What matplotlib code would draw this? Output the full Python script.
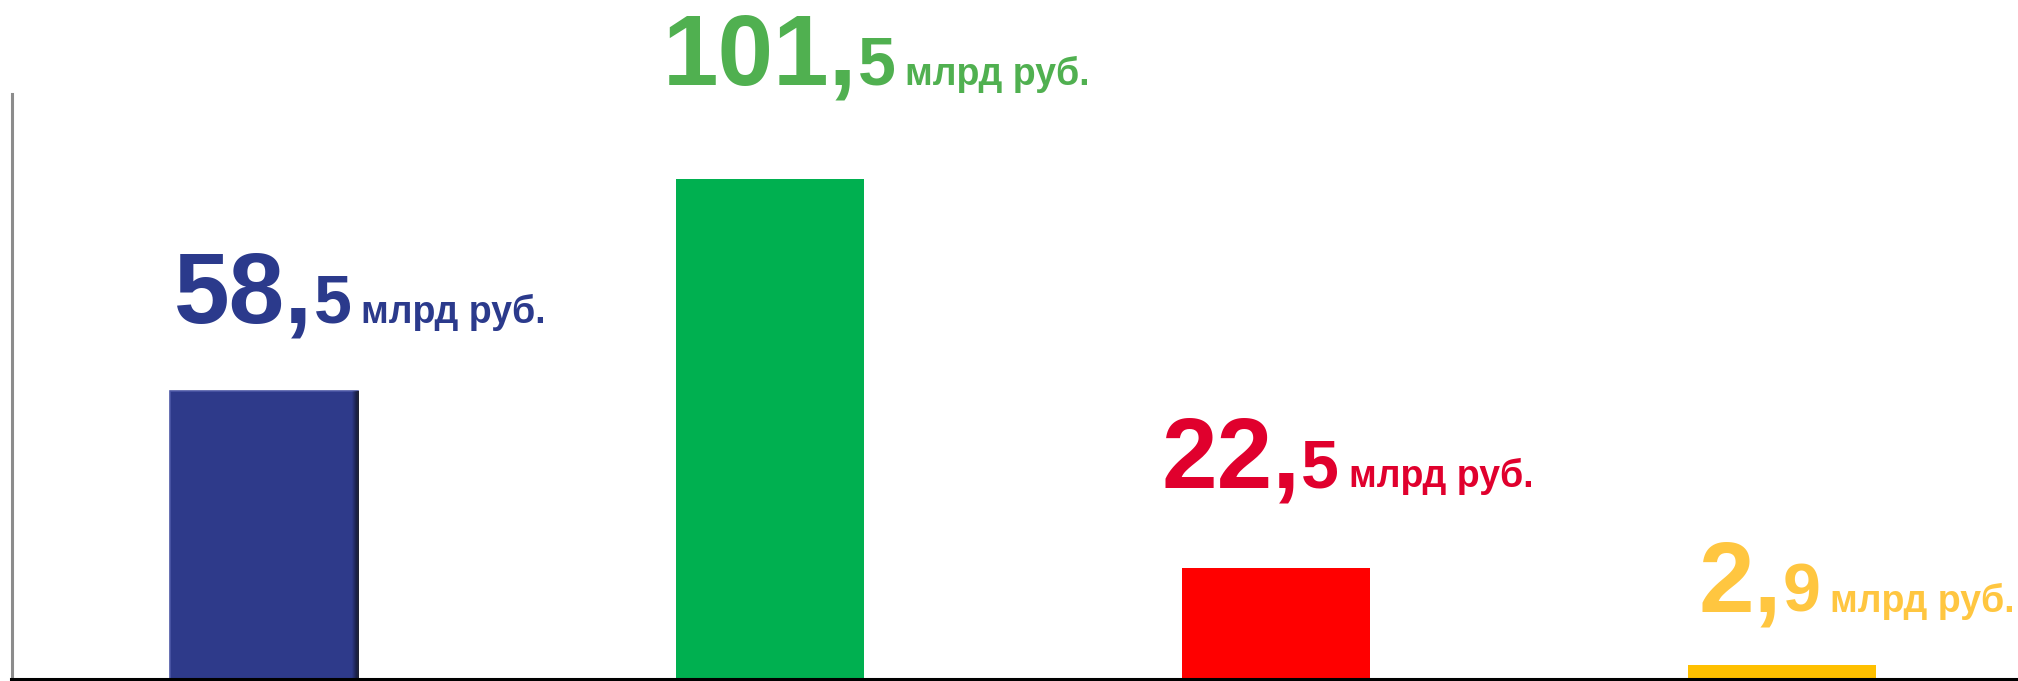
import numpy as np
import matplotlib
matplotlib.use("Agg")
import matplotlib.pyplot as plt
import matplotlib.font_manager as fm

# ---- data ----
categories = ["A", "B", "C", "D"]
values = [58.5, 101.5, 22.5, 2.9]
unit_label = "млрд руб."

# ---- style ----
bar_colors = ["#2E3A8A", "#00B050", "#FF0000", "#FFC000"]
text_colors = ["#2B3A8C", "#50B050", "#E0002D", "#FFC640"]
# label placement (pixel offsets from bar's left/top)
label_dx = [4, -13, -20, 11]
label_dy = [68, 94, 81, 53]
mid_gap = 0
unit_gap = 10

cands = sorted(
    f.fname for f in fm.fontManager.ttflist
    if f.name == "Liberation Sans" and f.weight in (700, "bold")
    and f.style == "normal" and "narrow" not in f.fname.lower()
)


def bold_font(size):
    if cands:
        return fm.FontProperties(fname=cands[0], size=size)
    return fm.FontProperties(family=["Liberation Sans", "DejaVu Sans"], weight="bold", size=size)


W, H = 2018, 681
DPI = 100
fig = plt.figure(figsize=(W / DPI, H / DPI), dpi=DPI)
ax_left, ax_bottom, ax_top = 11.5, 2.0, 94.0
ax = fig.add_axes([ax_left / W, ax_bottom / H, (W - ax_left) / W, (H - ax_bottom - ax_top) / H])

x = np.arange(len(categories))
bar_w = 0.372
bars = ax.bar(x, values, width=bar_w, color=bar_colors, zorder=2)

# bevel look on the first bar
b0 = bars[0]
b0.set_edgecolor("#4D58A6")
b0.set_linewidth(1.2)
ramp = np.zeros((1, 200, 4))
ramp[..., :3] = 0.02
ramp[0, :, 3] = np.clip((np.arange(200) - 192) / 8.0, 0, 1) * 0.85
img = ax.imshow(ramp, extent=(b0.get_x(), b0.get_x() + b0.get_width(), 0, b0.get_height()),
                aspect="auto", zorder=3, interpolation="bilinear")
img.set_clip_path(b0)

ax.set_xlim(-0.5, -0.5 + (W - ax_left) / 505.8)
ax.set_ylim(0, 118.7)
ax.set_xticks([])
ax.set_yticks([])
for s in ["top", "right"]:
    ax.spines[s].set_visible(False)
ax.spines["left"].set_color("#8C8C8C")
ax.spines["left"].set_linewidth(2.2)
ax.spines["bottom"].set_color("black")
ax.spines["bottom"].set_linewidth(2.2)
ax.spines["bottom"].set_zorder(5)

fp_big, fp_mid, fp_small = bold_font(72), bold_font(49), bold_font(27)
for i, v in enumerate(values):
    ip, fp = f"{v:.1f}".split(".")
    t1 = ax.annotate(ip + ",", xy=(x[i] - bar_w / 2, v), xycoords="data",
                     xytext=(label_dx[i], label_dy[i]), textcoords="offset pixels",
                     ha="left", va="baseline", fontproperties=fp_big,
                     color=text_colors[i], annotation_clip=False)
    t2 = ax.annotate(fp, xy=(1, v), xycoords=(t1, "data"),
                     xytext=(mid_gap, label_dy[i]), textcoords="offset pixels",
                     ha="left", va="baseline", fontproperties=fp_mid,
                     color=text_colors[i], annotation_clip=False)
    t3 = ax.annotate(unit_label, xy=(1, v), xycoords=(t2, "data"),
                     xytext=(unit_gap, label_dy[i]), textcoords="offset pixels",
                     ha="left", va="baseline", fontproperties=fp_small,
                     color=text_colors[i], annotation_clip=False)

fig.savefig("out.png", dpi=DPI)
